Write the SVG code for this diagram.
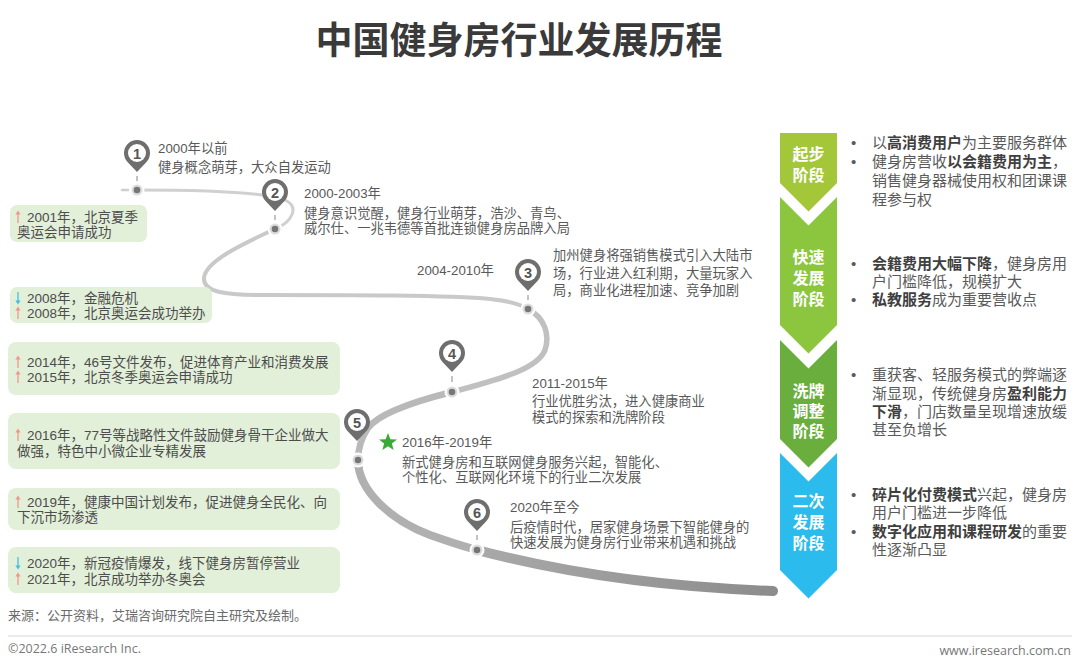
<svg xmlns="http://www.w3.org/2000/svg" width="1080" height="670" viewBox="0 0 1080 670">
<defs>
<style>
text{font-family:"Liberation Sans","Noto Sans CJK SC",sans-serif;}
.title{font-family:"Noto Sans CJK SC",sans-serif;font-size:37px;font-weight:700;fill:#3a3a3a;}
.pt{font-size:13.3px;fill:#595959;}
.bx{font-size:13.5px;fill:#4d4d4d;}
.box{fill:#e2efd9;}
.rt{font-size:15px;fill:#5a5a5a;}
.rt .b{font-weight:700;fill:#3f3f3f;}
.lab{font-size:16px;font-weight:700;fill:#ffffff;text-anchor:middle;}
.pin{fill:#6e6e6e;}
.pinin{fill:#ffffff;}
.num{font-size:14.5px;font-weight:700;fill:#555555;text-anchor:middle;}
.road{fill:none;stroke-linecap:round;}
.up{stroke:#f3968c;fill:#f3968c;}
.dn{stroke:#45bfe0;fill:#45bfe0;}
.foot{font-family:"Open Sans","Noto Sans",sans-serif;font-size:12.5px;fill:#777777;}
</style>
<linearGradient id="endg" gradientUnits="userSpaceOnUse" x1="477" y1="0" x2="775" y2="0">
<stop offset="0" stop-color="#a9a9a9"/><stop offset="1" stop-color="#8c8c8c"/>
</linearGradient>
<g id="dotdef">
<circle r="7.5" fill="#ffffff"/>
<circle r="5.5" fill="#dcdcdc"/>
<circle r="3.3" fill="#767676"/>
</g>
<g id="arrowup"><path d="M0,6 V-4" stroke-width="1.3"/><path d="M-2.6,-2.5 L0,-6.5 L2.6,-2.5 Z" stroke="none"/></g>
<g id="arrowdn"><path d="M0,-6 V4" stroke-width="1.3"/><path d="M-2.6,2.5 L0,6.5 L2.6,2.5 Z" stroke="none"/></g>
<path id="pinshape" d="M0,19 L-9.5,8.9 A13,13 0 1 1 9.5,8.9 Z"/>
</defs>
<rect width="1080" height="670" fill="#ffffff"/>
<text class="title" x="519" y="54" text-anchor="middle">中国健身房行业发展历程</text>

<g id="connectors">
<path class="road" d="M122,190 H128" stroke="#cfcfcf" stroke-width="2.5"/>
<path class="road" d="M137,190 C200,190 265,192 285,200 C300,207 292,222 275,229" stroke="#d0d0d0" stroke-width="3"/>
<path class="road" d="M275,229 C240,245 205,262 204,278 C203,292 225,295 260,295 C350,295 450,295 490,299 C510,301 520,304 528,309" stroke="#c9c9c9" stroke-width="4"/>
<path class="road" d="M528,309 C545,318 550,335 545,350 C538,368 505,378 452,392" stroke="#c0c0c0" stroke-width="5.5"/>
<path class="road" d="M452,392 C420,400 380,412 368,428 C360,440 358,450 358,460" stroke="#b9b9b9" stroke-width="6.5"/>
<path class="road" d="M358,460 C358,490 390,520 430,535 C450,542 465,547 477,550" stroke="#b0b0b0" stroke-width="8"/>
<path class="road" d="M477,550 C560,572 660,587 773,591" stroke="url(#endg)" stroke-width="10"/>
</g>

<g id="dots">
<use href="#dotdef" x="137" y="190"/>
<use href="#dotdef" x="275" y="229"/>
<use href="#dotdef" x="528" y="309"/>
<use href="#dotdef" x="452" y="392"/>
<use href="#dotdef" x="358" y="460"/>
<use href="#dotdef" x="477" y="550"/>
</g>

<g id="node-1">
<use href="#pinshape" class="pin" x="137" y="153"/>
<circle class="pinin" cx="137" cy="153" r="9"/>
<text class="num" x="137" y="158.5">1</text>
<path d="M137,176 V181" stroke="#9a9a9a" stroke-width="1.2"/>
<text class="pt" x="158" y="153">2000年以前<tspan x="158" dy="19">健身概念萌芽，大众自发运动</tspan></text>
</g>

<g id="node-2">
<use href="#pinshape" class="pin" x="275" y="192"/>
<circle class="pinin" cx="275" cy="192" r="9"/>
<text class="num" x="275" y="197.5">2</text>
<path d="M275,215 V220" stroke="#9a9a9a" stroke-width="1.2"/>
<text class="pt" x="304" y="198">2000-2003年<tspan x="304" dy="20">健身意识觉醒，健身行业萌芽，浩沙、青鸟、</tspan><tspan x="304" dy="15">威尔仕、一兆韦德等首批连锁健身房品牌入局</tspan></text>
</g>

<g id="node-3">
<use href="#pinshape" class="pin" x="528" y="272"/>
<circle class="pinin" cx="528" cy="272" r="9"/>
<text class="num" x="528" y="277.5">3</text>
<path d="M528,295 V300" stroke="#9a9a9a" stroke-width="1.2"/>
<text class="pt" x="417" y="275">2004-2010年</text>
<text class="pt" x="553" y="260">加州健身将强销售模式引入大陆市<tspan x="553" dy="18">场，行业进入红利期，大量玩家入</tspan><tspan x="553" dy="17">局，商业化进程加速、竞争加剧</tspan></text>
</g>

<g id="node-4">
<use href="#pinshape" class="pin" x="452" y="353"/>
<circle class="pinin" cx="452" cy="353" r="9"/>
<text class="num" x="452" y="358.5">4</text>
<path d="M452,376 V382" stroke="#9a9a9a" stroke-width="1.2"/>
<text class="pt" x="532" y="388">2011-2015年<tspan x="532" dy="18">行业优胜劣汰，进入健康商业</tspan><tspan x="532" dy="16">模式的探索和洗牌阶段</tspan></text>
</g>

<g id="node-5">
<use href="#pinshape" class="pin" x="357" y="422"/>
<circle class="pinin" cx="357" cy="422" r="9"/>
<text class="num" x="357" y="427.5">5</text>
<path d="M388,433 L390.4,439.2 L397,439.5 L391.9,443.6 L393.6,450 L388,446.3 L382.4,450 L384.1,443.6 L379,439.5 L385.6,439.2 Z" fill="#3aaa35"/>
<text class="pt" x="402" y="447">2016年-2019年<tspan x="402" dy="20">新式健身房和互联网健身服务兴起，智能化、</tspan><tspan x="402" dy="15">个性化、互联网化环境下的行业二次发展</tspan></text>
</g>

<g id="node-6">
<use href="#pinshape" class="pin" x="477" y="512"/>
<circle class="pinin" cx="477" cy="512" r="9"/>
<text class="num" x="477" y="517.5">6</text>
<path d="M477,535 V540" stroke="#9a9a9a" stroke-width="1.2"/>
<text class="pt" x="510" y="512">2020年至今<tspan x="510" dy="20">后疫情时代，居家健身场景下智能健身的</tspan><tspan x="510" dy="15">快速发展为健身房行业带来机遇和挑战</tspan></text>
</g>

<g id="event-2001">
<rect class="box" x="10" y="205" width="137" height="37" rx="7"/>
<use href="#arrowup" class="up" x="18" y="217"/>
<text class="bx" x="27" y="222">2001年，北京夏季<tspan x="17" dy="15">奥运会申请成功</tspan></text>
</g>
<g id="event-2008">
<rect class="box" x="10" y="287" width="202" height="36" rx="7"/>
<use href="#arrowdn" class="dn" x="18" y="298"/>
<use href="#arrowup" class="up" x="18" y="313"/>
<text class="bx" x="27" y="303">2008年，金融危机<tspan x="27" dy="15">2008年，北京奥运会成功举办</tspan></text>
</g>
<g id="event-2014">
<rect class="box" x="8" y="342" width="332" height="53" rx="8"/>
<use href="#arrowup" class="up" x="18" y="362"/>
<use href="#arrowup" class="up" x="18" y="377"/>
<text class="bx" x="27" y="367">2014年，46号文件发布，促进体育产业和消费发展<tspan x="27" dy="15">2015年，北京冬季奥运会申请成功</tspan></text>
</g>
<g id="event-2016">
<rect class="box" x="8" y="413" width="332" height="56" rx="8"/>
<use href="#arrowup" class="up" x="18" y="435"/>
<text class="bx" x="27" y="440">2016年，77号等战略性文件鼓励健身骨干企业做大<tspan x="17" dy="16">做强，特色中小微企业专精发展</tspan></text>
</g>
<g id="event-2019">
<rect class="box" x="8" y="488" width="332" height="42" rx="8"/>
<use href="#arrowup" class="up" x="18" y="502"/>
<text class="bx" x="27" y="507">2019年，健康中国计划发布，促进健身全民化、向<tspan x="17" dy="15">下沉市场渗透</tspan></text>
</g>
<g id="event-2020">
<rect class="box" x="8" y="547" width="332" height="46" rx="8"/>
<use href="#arrowdn" class="dn" x="18" y="563"/>
<use href="#arrowup" class="up" x="18" y="579"/>
<text class="bx" x="27" y="568">2020年，新冠疫情爆发，线下健身房暂停营业<tspan x="27" dy="16">2021年，北京成功举办冬奥会</tspan></text>
</g>

<g id="stage-1">
<path d="M780,133 H837 V183 L808.5,211.5 L780,183 Z" fill="#a4c639"/>
<text class="lab" x="808.5" y="160">起步<tspan x="808.5" dy="21">阶段</tspan></text>
<text class="rt" x="851" y="148">•<tspan x="851" dy="19">•</tspan></text>
<text class="rt" x="872" y="148">以<tspan class="b">高消费用户</tspan>为主要服务群体<tspan x="872" dy="19">健身房营收</tspan><tspan class="b">以会籍费用为主</tspan>，<tspan x="872" dy="19">销售健身器械使用权和团课课</tspan><tspan x="872" dy="19">程参与权</tspan></text>
</g>
<g id="stage-2">
<path d="M780,197 L808.5,225.5 L837,197 V325 L808.5,353.5 L780,325 Z" fill="#8cc63f"/>
<text class="lab" x="808.5" y="263">快速<tspan x="808.5" dy="21">发展</tspan><tspan x="808.5" dy="21">阶段</tspan></text>
<text class="rt" x="851" y="269">•<tspan x="851" dy="36">•</tspan></text>
<text class="rt" x="872" y="269"><tspan class="b">会籍费用大幅下降</tspan>，健身房用<tspan x="872" dy="18">户门槛降低，规模扩大</tspan><tspan x="872" dy="18" class="b">私教服务</tspan>成为重要营收点</text>
</g>
<g id="stage-3">
<path d="M780,340 L808.5,368.5 L837,340 V439 L808.5,467.5 L780,439 Z" fill="#6aaf3d"/>
<text class="lab" x="808.5" y="397">洗牌<tspan x="808.5" dy="20">调整</tspan><tspan x="808.5" dy="20">阶段</tspan></text>
<text class="rt" x="851" y="380">•</text>
<text class="rt" x="872" y="380">重获客、轻服务模式的弊端逐<tspan x="872" dy="19">渐显现，传统健身房</tspan><tspan class="b">盈利能力</tspan><tspan x="872" dy="18" class="b">下滑</tspan>，门店数量呈现增速放缓<tspan x="872" dy="18">甚至负增长</tspan></text>
</g>
<g id="stage-4">
<path d="M780,453 L808.5,481.5 L837,453 V570 L808.5,598.5 L780,570 Z" fill="#2bbbec"/>
<text class="lab" x="808.5" y="507">二次<tspan x="808.5" dy="21">发展</tspan><tspan x="808.5" dy="21">阶段</tspan></text>
<text class="rt" x="851" y="500">•<tspan x="851" dy="37">•</tspan></text>
<text class="rt" x="872" y="500"><tspan class="b">碎片化付费模式</tspan>兴起，健身房<tspan x="872" dy="18">用户门槛进一步降低</tspan><tspan x="872" dy="19" class="b">数字化应用和课程研发</tspan>的重要<tspan x="872" dy="18">性逐渐凸显</tspan></text>
</g>

<g id="footer">
<text x="8" y="620" font-size="13" fill="#6b6b6b">来源：公开资料，艾瑞咨询研究院自主研究及绘制。</text>
<path d="M8,636 H1072" stroke="#d4d4d4" stroke-width="1"/>
<text class="foot" x="8" y="653">©2022.6 iResearch Inc.</text>
<text class="foot" x="1071" y="655" text-anchor="end" font-size="13">www.iresearch.com.cn</text>
</g>
</svg>
